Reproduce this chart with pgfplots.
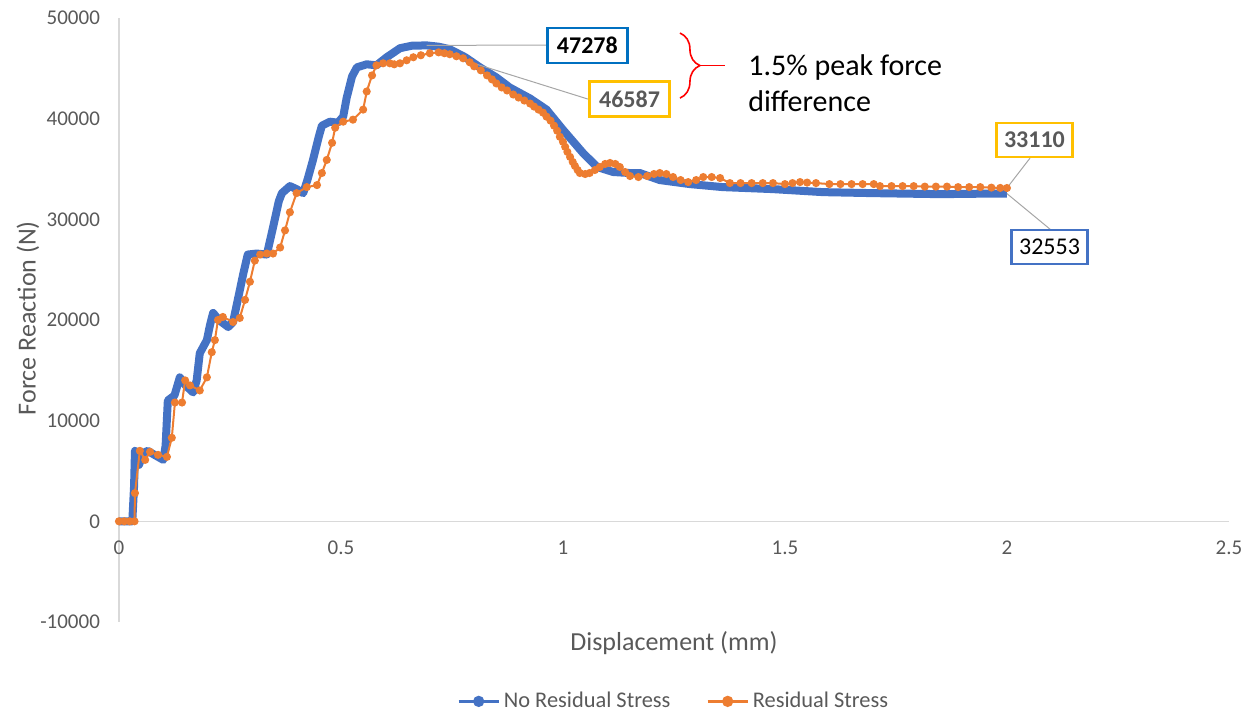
\documentclass[border=0pt]{standalone}
\usepackage{pgfplots}
\pgfplotsset{compat=1.18}
\usepackage{fontspec}
\setmainfont{Carlito}
\usetikzlibrary{decorations.pathreplacing}
\definecolor{xlblue}{HTML}{4472C4}
\definecolor{xlorange}{HTML}{ED7D31}
\definecolor{xlgray}{HTML}{595959}
\definecolor{axgray}{HTML}{D9D9D9}
\definecolor{boxblue}{HTML}{0070C0}
\definecolor{boxyellow}{HTML}{FFC000}
\definecolor{leader}{HTML}{A6A6A6}
\begin{document}
\begin{tikzpicture}
\begin{axis}[
 scale only axis, width=555pt, height=302pt,
 xmin=0, xmax=2.5, ymin=-10000, ymax=50000,
 axis x line*=middle, axis y line*=left,
 axis line style={axgray, line width=0.75pt},
 scaled x ticks=false, scaled y ticks=false,
 xtick={0,0.5,1,1.5,2,2.5}, xticklabels={0,0.5,1,1.5,2,2.5},
 ytick={-10000,0,10000,20000,30000,40000,50000},
 yticklabels={-10000,0,10000,20000,30000,40000,50000},
 major tick length=0pt,
 hide obscured x ticks=false, hide obscured y ticks=false,
 tick label style={font=\fontsize{10.5}{12}\selectfont, text=xlgray},
 yticklabel style={xshift=-6pt},
 xticklabel style={yshift=-6.5pt},
 clip=false,
 legend style={at={(0.5008,-0.1315)}, anchor=center, draw=none, fill=none,
   font=\fontsize{11.2}{13}\selectfont, text=xlgray,
   /tikz/every even column/.append style={column sep=16pt}},
 legend columns=2,
 legend image code/.code={\draw[mark repeat=2,mark phase=2,#1] plot coordinates {(0pt,0pt)(10pt,0pt)(20pt,0pt)};},
]
\addplot[xlblue, line width=4pt, line join=round, forget plot] coordinates {
(0,0) (0.03,0) (0.034,3500) (0.036,7000) (0.045,5600) (0.055,6800) (0.065,7000)
(0.08,6600) (0.1,6100) (0.105,7500) (0.11,12000) (0.125,12500) (0.137,14300)
(0.15,13500) (0.167,12800) (0.175,14000) (0.182,16700) (0.198,18000) (0.205,19500)
(0.212,20700) (0.225,20000) (0.246,19300) (0.257,19800) (0.27,22500) (0.28,24600)
(0.29,26500) (0.31,26600) (0.333,26500) (0.347,29200) (0.36,31800) (0.367,32600)
(0.385,33300) (0.40,33000) (0.415,32600) (0.425,34000) (0.437,35900) (0.45,38200)
(0.457,39300) (0.475,39700) (0.493,39600) (0.505,40200) (0.513,42100) (0.525,44200)
(0.536,45100) (0.558,45400) (0.58,45300) (0.603,46100) (0.633,47000) (0.66,47250)
(0.693,47278) (0.72,47150) (0.745,46900) (0.78,46100) (0.813,45100) (0.85,44100)
(0.88,43100) (0.926,42000) (0.963,40900) (1.0,38900) (1.045,36600) (1.077,35200)
(1.113,34700) (1.15,34600) (1.173,34600) (1.218,33900) (1.286,33500) (1.36,33200)
(1.473,33000) (1.586,32700) (1.70,32600) (1.85,32500) (1.95,32550) (2.0,32553)
};
\addplot[xlorange, line width=1pt, mark=*, mark size=1.5pt, forget plot] coordinates {
(0,0) (0.012,0) (0.024,0) (0.035,0) (0.036,2800) (0.047,7000) (0.059,6100) (0.07,6900)
(0.088,6600) (0.108,6400) (0.119,8300) (0.126,11800) (0.142,11800) (0.149,14000)
(0.16,13500) (0.182,13000) (0.198,14300) (0.209,16800) (0.216,18000) (0.223,20000)
(0.234,20300) (0.257,19800) (0.272,20200) (0.284,22000) (0.295,23800) (0.306,25900)
(0.318,26500) (0.333,26600) (0.347,26600) (0.363,27200) (0.374,28900) (0.385,30700)
(0.40,32600) (0.423,33200) (0.446,33400) (0.457,34600) (0.468,35900) (0.48,37600)
(0.487,39100) (0.505,39700) (0.527,39900) (0.55,40900) (0.558,42700) (0.57,44300)
(0.58,45300) (0.595,45500) (0.61,45500) (0.62,45400) (0.633,45500) (0.648,45800)
(0.663,46100) (0.68,46300) (0.70,46500) (0.72,46587) (0.733,46500)
(0.745,46400) (0.76,46200) (0.775,46000) (0.79,45600) (0.80,45200) (0.815,44800)
(0.829,44300) (0.84,43900) (0.85,43500) (0.862,43100) (0.874,42800) (0.888,42400)
(0.90,42100) (0.913,41800) (0.926,41500) (0.935,41200) (0.945,40900) (0.955,40600)
(0.963,40200) (0.972,39800) (0.98,39300) (0.987,38800) (0.993,38200) (1.0,37700)
(1.005,37200) (1.01,36700) (1.016,36200) (1.022,35700) (1.027,35300) (1.033,34900)
(1.038,34600) (1.05,34500) (1.06,34600) (1.072,34900) (1.083,35200) (1.095,35500)
(1.106,35600) (1.118,35500) (1.128,35200) (1.14,34700) (1.151,34300) (1.17,34200)
(1.19,34300) (1.205,34500) (1.218,34600) (1.233,34500) (1.248,34200) (1.265,33900)
(1.282,33700) (1.30,33900) (1.316,34200) (1.335,34200) (1.354,34100) (1.376,33600)
(1.40,33600) (1.425,33600) (1.45,33600) (1.473,33600) (1.50,33500) (1.517,33600)
(1.534,33700) (1.55,33650) (1.57,33600) (1.60,33500) (1.625,33500) (1.65,33500)
(1.675,33500) (1.70,33500) (1.714,33300) (1.74,33300) (1.765,33300) (1.79,33300)
(1.815,33250) (1.84,33250) (1.865,33250) (1.89,33200) (1.915,33200) (1.94,33200)
(1.965,33150) (1.985,33120) (2.0,33110)
};
\addlegendimage{xlblue, line width=1.2pt, mark=*, mark size=2.2pt}
\addlegendentry{No Residual Stress}
\addlegendimage{xlorange, line width=1.2pt, mark=*, mark size=2.2pt}
\addlegendentry{Residual Stress}
% axis titles
\node[rotate=90, font=\fontsize{13}{15}\selectfont, text=xlgray] at (axis cs:-0.205,20180) {Force Reaction (N)};
\node[font=\fontsize{13}{15}\selectfont, text=xlgray] at (axis cs:1.25,-12127) {Displacement (mm)};
% leader lines
\draw[leader, line width=0.5pt] (axis cs:0.693,47278) -- (axis cs:0.962,47314);
\draw[leader, line width=0.5pt] (axis cs:0.72,46587) -- (axis cs:1.056,41950);
\draw[leader, line width=0.5pt] (axis cs:2.0,33110) -- (axis cs:2.052,36080);
\draw[leader, line width=0.5pt] (axis cs:2.0,32553) -- (axis cs:2.097,29025);
% data label boxes
\node[draw=boxblue, line width=1.25pt, fill=white, minimum width=40pt, minimum height=17.5pt, inner sep=1pt, font=\bfseries\fontsize{12}{14}\selectfont, text=black] at (axis cs:1.055,47265) {47278};
\node[draw=boxyellow, line width=1.25pt, fill=white, minimum width=40pt, minimum height=17.5pt, inner sep=1pt, font=\bfseries\fontsize{12}{14}\selectfont, text=xlgray] at (axis cs:1.15,41950) {46587};
\node[draw=boxyellow, line width=1.25pt, fill=white, minimum width=38pt, minimum height=17pt, inner sep=1pt, font=\bfseries\fontsize{12}{14}\selectfont, text=xlgray] at (axis cs:2.062,37870) {33110};
\node[draw=xlblue, line width=1.25pt, fill=white, minimum width=38pt, minimum height=17pt, inner sep=1pt, font=\fontsize{12}{14}\selectfont, text=black] at (axis cs:2.096,27236) {32553};
% brace and note
\draw[red, line width=0.8pt, decorate, decoration={brace, amplitude=10pt}] (axis cs:1.2635,48507) -- (axis cs:1.2635,42046);
\draw[red, line width=0.8pt] (axis cs:1.3086,45276) -- (axis cs:1.365,45276);
\node[anchor=base west, inner sep=0pt, font=\fontsize{15}{17.5}\selectfont, text=black] at (axis cs:1.4167,44332) {1.5\% peak force};
\node[anchor=base west, inner sep=0pt, font=\fontsize{15}{17.5}\selectfont, text=black] at (axis cs:1.4167,40685) {difference};
\coordinate (bbsw) at (axis cs:-0.268,-19086);
\coordinate (bbne) at (axis cs:2.552,51789);
\end{axis}
\pgfresetboundingbox
\path[use as bounding box] (bbsw) rectangle (bbne);
\end{tikzpicture}
\end{document}
